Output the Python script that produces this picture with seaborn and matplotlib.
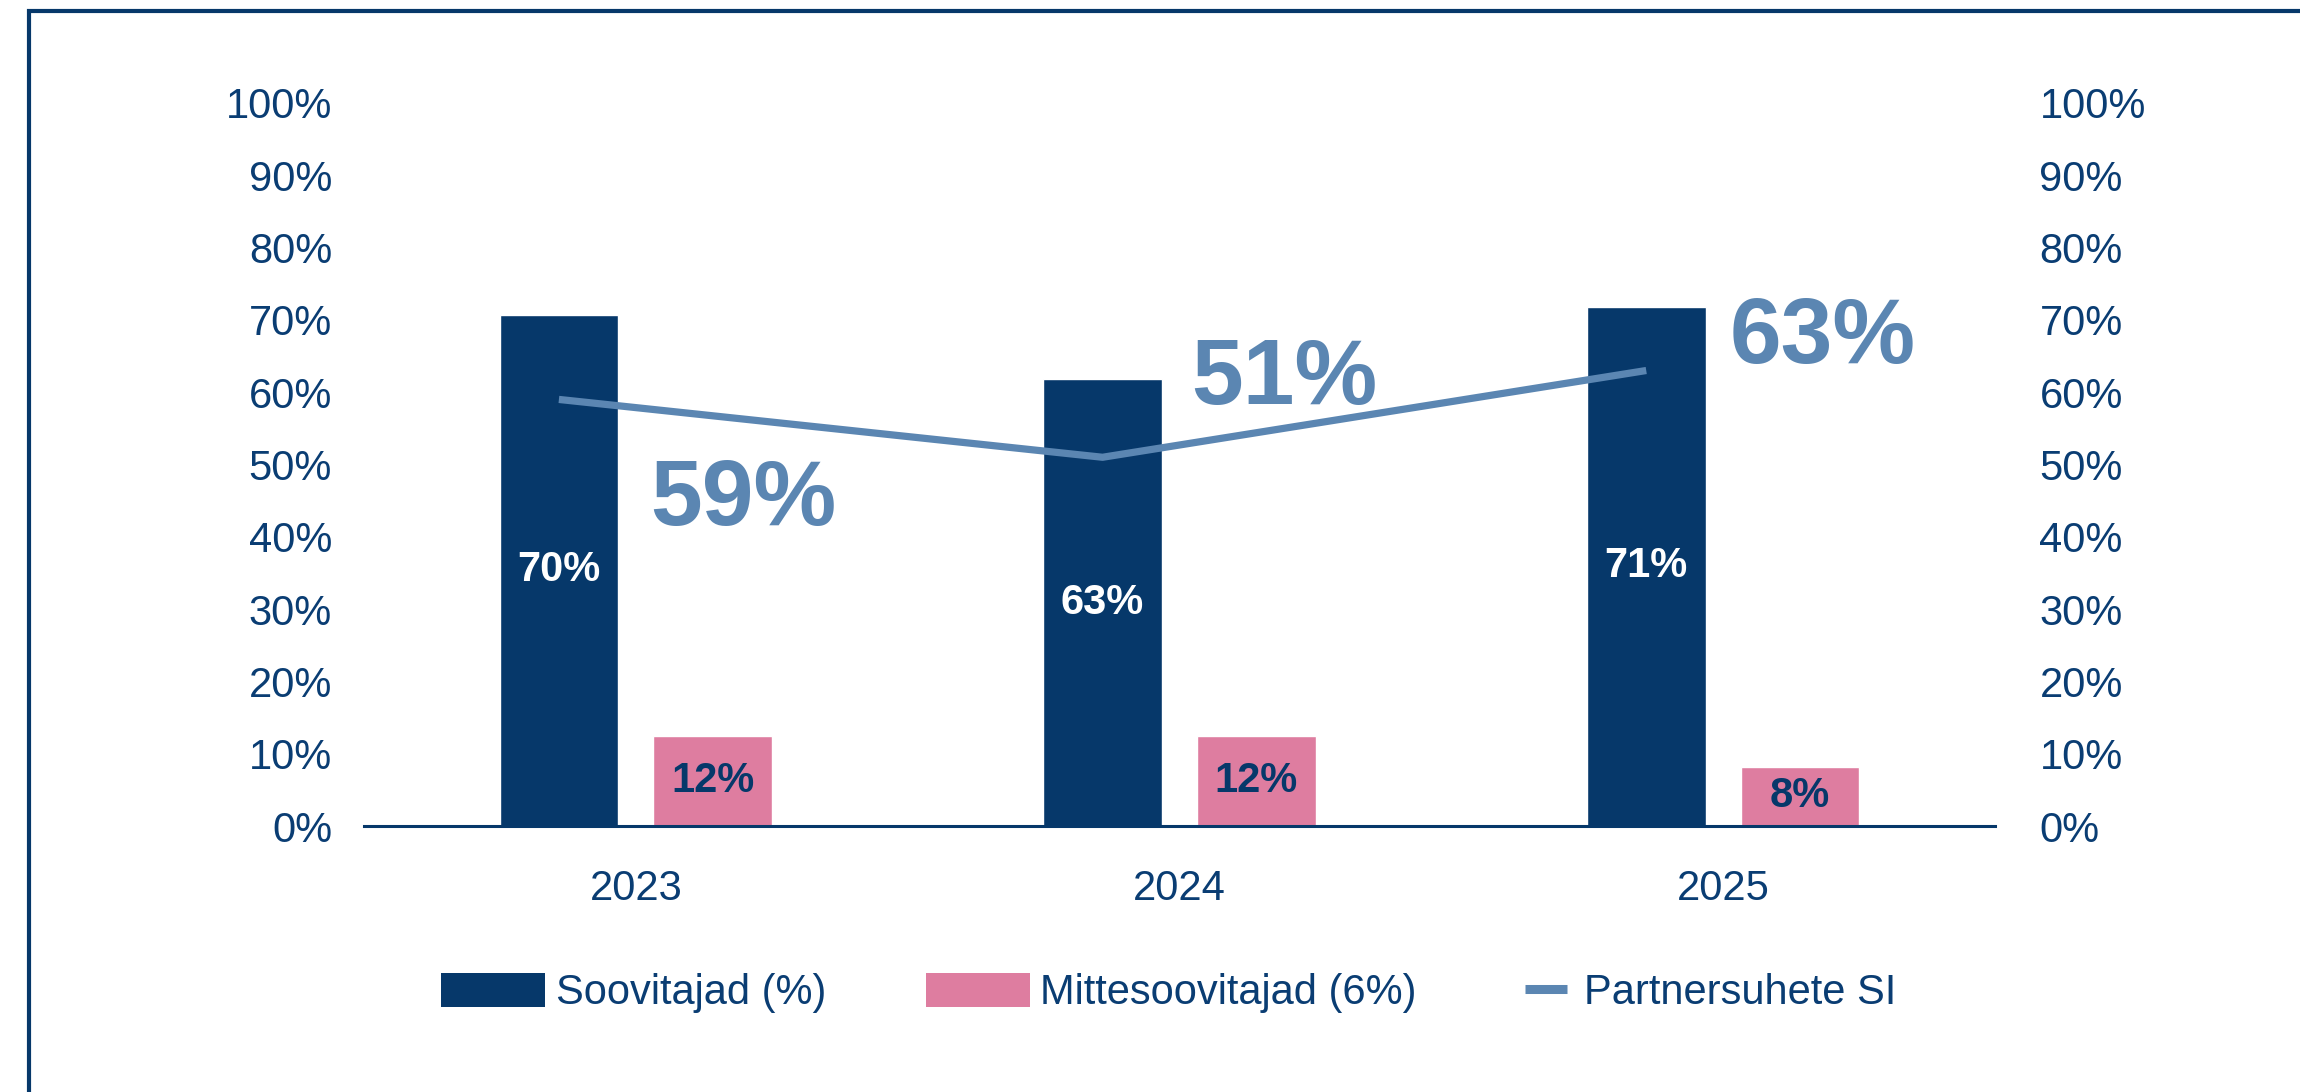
import numpy as np
import pandas as pd
import matplotlib
matplotlib.use("Agg")
import matplotlib.pyplot as plt
import seaborn as sns
from matplotlib.patches import Rectangle, Patch
from matplotlib.lines import Line2D

# ---- data ----
years = ["2023", "2024", "2025"]
promoters = [70.7, 61.8, 71.8]
promoter_labels = ["70%", "63%", "71%"]
detractors = [12.5, 12.5, 8.2]
detractor_labels = ["12%", "12%", "8%"]
si_values = [59, 51, 63]
si_labels = ["59%", "51%", "63%"]
series_names = ["Soovitajad (%)", "Mittesoovitajad (6%)", "Partnersuhete SI"]
yticks = list(range(0, 101, 10))
ytick_labels = [f"{t}%" for t in yticks]

# ---- style ----
NAVY = "#06386A"
PINK = "#DE7DA0"
STEEL = "#5B86B2"
TEXT = "#0A3D73"
W, H = 2300, 1092

df = pd.DataFrame({
    "year": years * 2,
    "value": promoters + detractors,
    "series": [series_names[0]] * 3 + [series_names[1]] * 3,
})

sns.set_theme(style="white")
plt.rcParams["font.family"] = ["Liberation Sans", "DejaVu Sans"]

fig = plt.figure(figsize=(W / 100, H / 100), dpi=100)
ax = fig.add_axes([364 / W, 1 - 826 / H, (1995 - 364) / W, (826 - 103) / H])

sns.barplot(data=df, x="year", y="value", hue="series", palette=[NAVY, PINK],
            width=0.566, gap=0.228, saturation=1, ax=ax, legend=False)

navy_bars = ax.containers[0]
pink_bars = ax.containers[1]
centers = [p.get_x() + p.get_width() / 2 for p in navy_bars]

sns.lineplot(x=centers, y=si_values, color=STEEL, linewidth=5.2, ax=ax, legend=False,
             solid_capstyle="butt", zorder=3)

ax.bar_label(navy_bars, labels=promoter_labels, label_type="center",
             color="white", fontsize=30, fontweight="bold")
ax.bar_label(pink_bars, labels=detractor_labels, label_type="center",
             color=NAVY, fontsize=30, fontweight="bold")

# big SI labels (offsets relative to each point)
dx = [0.340, 0.335, 0.324]
dy = [-17.4, 7.4, 1.0]
for c, v, lab, ox, oy in zip(centers, si_values, si_labels, dx, dy):
    ax.text(c + ox, v + oy, lab, ha="center", va="baseline",
            fontsize=67, fontweight="bold", color=STEEL, zorder=4)

ax.set_ylim(0, 100)
ax.set_xlim(-0.5, 2.5)
ax.set_yticks(yticks)
ax.set_yticklabels(ytick_labels)
ax.set_xlabel("")
ax.set_ylabel("")
for s in ["left", "right", "top"]:
    ax.spines[s].set_visible(False)
ax.spines["bottom"].set_color(NAVY)
ax.spines["bottom"].set_linewidth(2.2)
ax.tick_params(axis="y", length=0, labelsize=30, labelcolor=TEXT, pad=23)
ax.tick_params(axis="x", length=0, labelsize=30, labelcolor=TEXT, pad=31)

ax2 = ax.twinx()
ax2.set_ylim(0, 100)
ax2.set_yticks(yticks)
ax2.set_yticklabels(ytick_labels)
for s in ["left", "right", "top", "bottom"]:
    ax2.spines[s].set_visible(False)
ax2.tick_params(axis="y", length=0, labelsize=30, labelcolor=TEXT, pad=32)
ax2.grid(False)
ax.grid(False)

# ---- legends ----
ly = 1 - 993 / H
common = dict(loc="center left", frameon=False, borderpad=0, borderaxespad=0,
              fontsize=30, labelcolor=TEXT, handletextpad=0.25)
fig.legend(handles=[Patch(facecolor=NAVY, edgecolor="none")], labels=[series_names[0]],
           bbox_to_anchor=(441 / W, ly), handlelength=2.5, handleheight=0.9, **common)
fig.legend(handles=[Patch(facecolor=PINK, edgecolor="none")], labels=[series_names[1]],
           bbox_to_anchor=(925.5 / W, ly), handlelength=2.5, handleheight=0.9, **common)
common_line = dict(common)
common_line["handletextpad"] = 0.42
fig.legend(handles=[Line2D([0], [0], color=STEEL, lw=6.5, solid_capstyle="butt")],
           labels=[series_names[2]], bbox_to_anchor=(1525 / W, ly),
           handlelength=1.0, **common_line)

# ---- outer frame ----
top = 1 - 11 / H
fig.add_artist(Rectangle((29 / W, -0.5), 2, top + 0.5, transform=fig.transFigure,
                         fill=False, edgecolor=NAVY, lw=3, clip_on=False))

fig.savefig("out.png", dpi=100)
